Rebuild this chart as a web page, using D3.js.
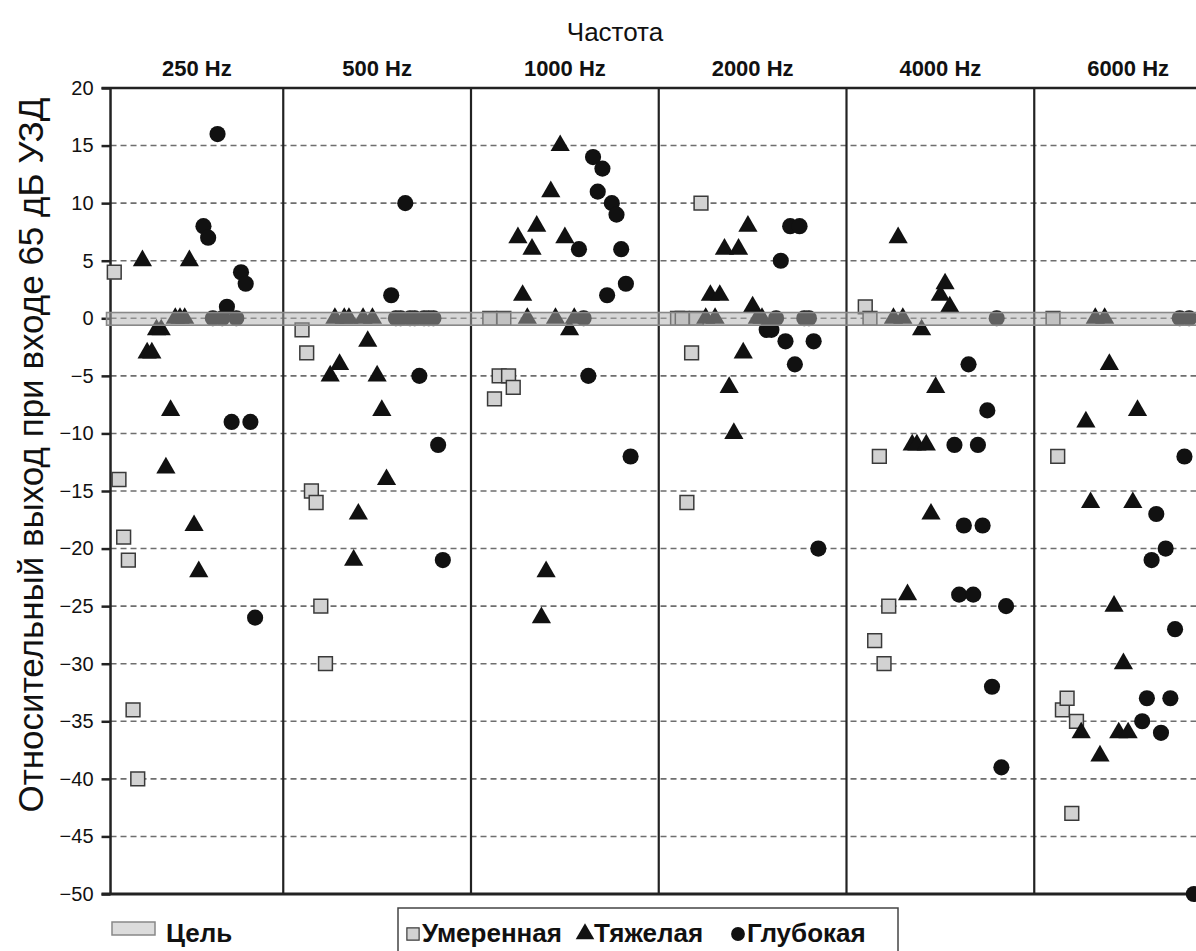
<!DOCTYPE html>
<html><head><meta charset="utf-8">
<script src="https://cdn.jsdelivr.net/npm/d3@7"></script>
<style>body{margin:0;background:#fff}svg{display:block}</style>
</head><body>
<svg id="chart" width="1196" height="951"></svg>
<script>
const frequencies = ["250 Hz","500 Hz","1000 Hz","2000 Hz","4000 Hz","6000 Hz"];
const yTicks = [20,15,10,5,0,-5,-10,-15,-20,-25,-30,-35,-40,-45,-50];
const targetBand = [-0.6, 0.5];
// one row per frequency, one value per listener
const moderate = [
  [4,-14,-19,-21,-34,-40],
  [-1,-3,-15,-16,-25,-30],
  [0,-7,-5,0,-5,-6],
  [0,0,-16,-3,0,10],
  [1,0,-28,-12,-30,-25],
  [0,-12,-34,-33,-43,-35]
];
const severe = [
  [5,-3,-3,-1,-1,-13,-8,0,0,0,5,-18,-22],
  [-5,0,-4,0,0,-21,-17,0,-2,0,-5,-8,-14],
  [7,2,0,6,8,-26,-22,11,0,15,7,-1,0],
  [0,2,0,2,6,-6,-10,6,-3,8,1,0,0],
  [0,7,0,-24,-11,-11,-1,-11,-17,-6,2,3,1],
  [-36,-9,-16,0,-38,0,-4,-25,-36,-30,-36,-16,-8]
];
const profound = [
  [8,7,0,16,0,1,-9,0,4,3,-9,-26],
  [2,0,0,10,0,0,-5,0,0,0,-11,-21],
  [6,0,-5,14,11,13,2,10,9,6,3,-12],
  [-1,-1,0,5,-2,8,-4,8,0,0,-2,-20],
  [-11,-24,-18,-4,-24,-11,-18,-8,-32,0,-39,-25],
  [-35,-33,-21,-17,-36,-20,-33,-27,0,-12,0,-50]
];
const seriesNames = ["Умеренная","Тяжелая","Глубокая"];

const slotsPerPanel = 40, firstSlot = 4;
const svg = d3.select("#chart");
const W = 1196, H = 951;
const x = d3.scaleLinear().domain([0, slotsPerPanel*frequencies.length]).range([95.5, 1222]);
const xMin = 3.2;
const y = d3.scaleLinear().domain([-50, 20]).range([894, 88]);
const left = x(xMin);
const font = "'Liberation Sans', Arial, sans-serif";

// gridlines
svg.append("g").selectAll("line").data(yTicks.filter(d => d !== 20 && d !== -50)).join("line")
  .attr("x1", left).attr("x2", W).attr("y1", d => y(d)).attr("y2", d => y(d))
  .attr("stroke", "#6e6e6e").attr("stroke-width", 1.6).attr("stroke-dasharray", "6,4");

// y axis
const yAxis = d3.axisLeft(y).tickValues(yTicks).tickSize(9).tickPadding(8).tickFormat(d3.format("d"));
const gy = svg.append("g").attr("transform", `translate(${left},0)`).call(yAxis);
gy.select(".domain").remove();
gy.selectAll(".tick line").attr("stroke", "#222").attr("stroke-width", 2.5);
gy.selectAll(".tick text").attr("font-family", font).attr("font-size", 20).attr("fill", "#111");

// frame lines
svg.append("line").attr("x1", left - 9).attr("x2", W).attr("y1", y(20)).attr("y2", y(20))
  .attr("stroke", "#222").attr("stroke-width", 2.5);
svg.append("line").attr("x1", left - 9).attr("x2", W).attr("y1", y(-50)).attr("y2", y(-50))
  .attr("stroke", "#222").attr("stroke-width", 3);
svg.append("line").attr("x1", left).attr("x2", left).attr("y1", y(20)).attr("y2", y(-50))
  .attr("stroke", "#222").attr("stroke-width", 2.5);
svg.append("g").selectAll("line").data(d3.range(1, frequencies.length)).join("line")
  .attr("x1", d => x(d*slotsPerPanel)).attr("x2", d => x(d*slotsPerPanel))
  .attr("y1", y(20)).attr("y2", y(-50)).attr("stroke", "#222").attr("stroke-width", 2.2);

// panel headers
svg.append("g").selectAll("text").data(frequencies).join("text")
  .attr("x", (d, i) => (Math.max(x(i*slotsPerPanel), left) + x((i+1)*slotsPerPanel)) / 2)
  .attr("y", 76).attr("text-anchor", "middle")
  .attr("font-family", font).attr("font-weight", "bold").attr("font-size", 22).attr("fill", "#111")
  .text(d => d);

// titles
svg.append("text").attr("x", 615).attr("y", 41).attr("text-anchor", "middle")
  .attr("font-family", font).attr("font-size", 26).attr("fill", "#111").text("Частота");
svg.append("text").attr("transform", `translate(43,455) rotate(-90)`)
  .attr("text-anchor", "middle").attr("font-family", font).attr("font-size", 35).attr("fill", "#111")
  .text("Относительный выход при входе 65 дБ УЗД");

// points
function pts(arr, offset) {
  const out = [];
  arr.forEach((row, p) => row.forEach((v, i) => out.push({x: p*slotsPerPanel + firstSlot + offset + i, v})));
  return out;
}
const plot = svg.append("g");
const sq = d3.symbol().type(d3.symbolSquare).size(190);
const tri = d3.symbol().type(d3.symbolTriangle).size(160);
const circ = d3.symbol().type(d3.symbolCircle).size(205);
plot.append("g").selectAll("path").data(pts(moderate, 0)).join("path")
  .attr("d", sq).attr("transform", d => `translate(${x(d.x)},${y(d.v)})`)
  .attr("fill", "#d2d2d2").attr("stroke", "#3a3a3a").attr("stroke-width", 1.5);
plot.append("g").selectAll("path").data(pts(severe, moderate[0].length)).join("path")
  .attr("d", tri).attr("transform", d => `translate(${x(d.x)},${y(d.v)})`)
  .attr("fill", "#111");
plot.append("g").selectAll("path").data(pts(profound, moderate[0].length + severe[0].length)).join("path")
  .attr("d", circ).attr("transform", d => `translate(${x(d.x)},${y(d.v)})`)
  .attr("fill", "#111");

// target band
svg.append("rect").attr("x", left - 4).attr("y", y(targetBand[1])).attr("width", W)
  .attr("height", y(targetBand[0]) - y(targetBand[1]))
  .attr("fill", "#b0b0b0").attr("fill-opacity", 0.5).attr("stroke", "#888").attr("stroke-width", 1.6);

// legend: target
svg.append("rect").attr("x", 112).attr("y", 922).attr("width", 43).attr("height", 13)
  .attr("fill", "#dcdcdc").attr("stroke", "#888").attr("stroke-width", 1.5);
svg.append("text").attr("x", 166).attr("y", 942).attr("font-family", font).attr("font-weight", "bold")
  .attr("font-size", 26).attr("fill", "#111").text("Цель");

// legend: series
svg.append("rect").attr("x", 398).attr("y", 908).attr("width", 500).attr("height", 60)
  .attr("fill", "none").attr("stroke", "#444").attr("stroke-width", 1.5);
const lg = svg.append("g").attr("font-family", font).attr("font-weight", "bold").attr("font-size", 26).attr("fill", "#111");
const legendItems = [
  {sym: d3.symbol().type(d3.symbolSquare).size(150), fill: "#d2d2d2", stroke: "#3a3a3a", sx: 413, tx: 422},
  {sym: d3.symbol().type(d3.symbolTriangle).size(150), fill: "#111", stroke: "none", sx: 585, tx: 594},
  {sym: d3.symbol().type(d3.symbolCircle).size(150), fill: "#111", stroke: "none", sx: 738, tx: 747}
];
legendItems.forEach((it, i) => {
  lg.append("path").attr("d", it.sym).attr("transform", `translate(${it.sx},934)`)
    .attr("fill", it.fill).attr("stroke", it.stroke).attr("stroke-width", 1.2);
  lg.append("text").attr("x", it.tx).attr("y", 942).text(seriesNames[i]);
});
</script>
</body></html>
